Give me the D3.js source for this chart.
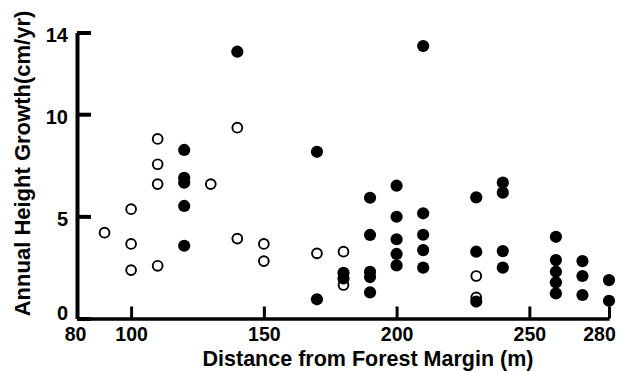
<!DOCTYPE html>
<html>
<head>
<meta charset="utf-8">
<script src="https://cdn.jsdelivr.net/npm/d3@7"></script>
<style>
  body { margin: 0; background: #fff; }
  .tick text { font-family: "Liberation Sans Narrow", "Arial Narrow", "Liberation Sans", sans-serif; font-weight: bold; }
  .title { font-family: "Liberation Sans", Arial, sans-serif; font-weight: bold; }
</style>
</head>
<body>
<div id="chart"></div>
<script>
// open circles
var openDist   = [90, 100, 100, 100, 110, 110, 110, 110, 130, 140, 140, 150, 150, 170, 180, 180, 230, 230];
var openGrowth = [4.20, 5.35, 3.65, 2.37, 8.79, 7.55, 6.58, 2.58, 6.58, 9.34, 3.91, 3.65, 2.81, 3.19, 3.27, 1.64, 2.08, 1.03];

// filled circles
var filledDist = [120, 120, 120, 120, 120, 140, 170, 170, 180, 180,
                  190, 190, 190, 190, 190, 200, 200, 200, 200, 200,
                  210, 210, 210, 210, 210, 230, 230, 230, 240, 240, 240, 240,
                  260, 260, 260, 260, 260, 270, 270, 270, 280, 280];
var filledGrowth = [8.25, 6.89, 6.65, 5.51, 3.56, 13.06, 8.16, 0.94, 2.24, 1.96,
                    5.91, 4.09, 2.28, 2.03, 1.28, 6.50, 4.98, 3.88, 3.16, 2.60,
                    13.34, 5.15, 4.10, 3.35, 2.49, 5.93, 3.27, 0.83, 6.65, 6.16, 3.30, 2.49,
                    4.00, 2.86, 2.29, 1.77, 1.23, 2.81, 2.08, 1.15, 1.88, 0.87];

var xTicks = [80, 100, 150, 200, 250, 280];
var yTicks = [0, 5, 10, 14];

var width = 620, height = 371;

var svg = d3.select('#chart').append('svg')
    .attr('width', width)
    .attr('height', height);

var x = d3.scaleLinear().domain([80, 280]).range([78, 609]);
var y = d3.scaleLinear().domain([0, 14]).range([318.5, 32.5]);

// x axis, ticks pointing up
var xAxis = svg.append('g')
    .attr('transform', 'translate(0,' + y(0) + ')')
    .call(d3.axisBottom(x).tickValues(xTicks).tickSize(-12).tickSizeOuter(0).tickPadding(9));
xAxis.select('.domain').attr('stroke-width', 3.5);
xAxis.selectAll('.tick line').attr('stroke-width', 3);
xAxis.selectAll('.tick text').attr('font-size', 19.5).attr('dx', function(d) {
  return d == 80 ? -3 : d == 280 ? -10 : 0;
});
xAxis.selectAll('.tick').filter(function(d) { return d == 80; }).select('line').remove();

// y axis, ticks pointing right
var yAxis = svg.append('g')
    .attr('transform', 'translate(' + (x(80) - 1) + ',0)')
    .call(d3.axisLeft(y).tickValues(yTicks).tickSize(-14).tickSizeOuter(0).tickPadding(9));
yAxis.select('.domain').attr('stroke-width', 4);
yAxis.selectAll('.tick line').attr('stroke-width', 4);
yAxis.selectAll('.tick text').attr('font-size', 20).attr('dy', function(d) {
  return d == 0 ? '0.05em' : '0.45em';
});

// points
svg.append('g').selectAll('circle')
    .data(d3.zip(openDist, openGrowth))
  .enter().append('circle')
    .attr('cx', function(d) { return x(d[0]); })
    .attr('cy', function(d) { return y(d[1]); })
    .attr('r', 4.9)
    .attr('fill', '#fff')
    .attr('stroke', '#000')
    .attr('stroke-width', 1.9);

svg.append('g').selectAll('circle')
    .data(d3.zip(filledDist, filledGrowth))
  .enter().append('circle')
    .attr('cx', function(d) { return x(d[0]); })
    .attr('cy', function(d) { return y(d[1]); })
    .attr('r', 6.1)
    .attr('fill', '#000');

// titles
svg.append('text')
    .attr('class', 'title')
    .attr('x', 368)
    .attr('y', 366)
    .attr('text-anchor', 'middle')
    .attr('font-size', 21.5)
    .text('Distance from Forest Margin (m)');

svg.append('text')
    .attr('class', 'title')
    .attr('transform', 'translate(30,163.5) rotate(-90)')
    .attr('text-anchor', 'middle')
    .attr('font-size', 22)
    .text('Annual Height Growth(cm/yr)');
</script>
</body>
</html>
